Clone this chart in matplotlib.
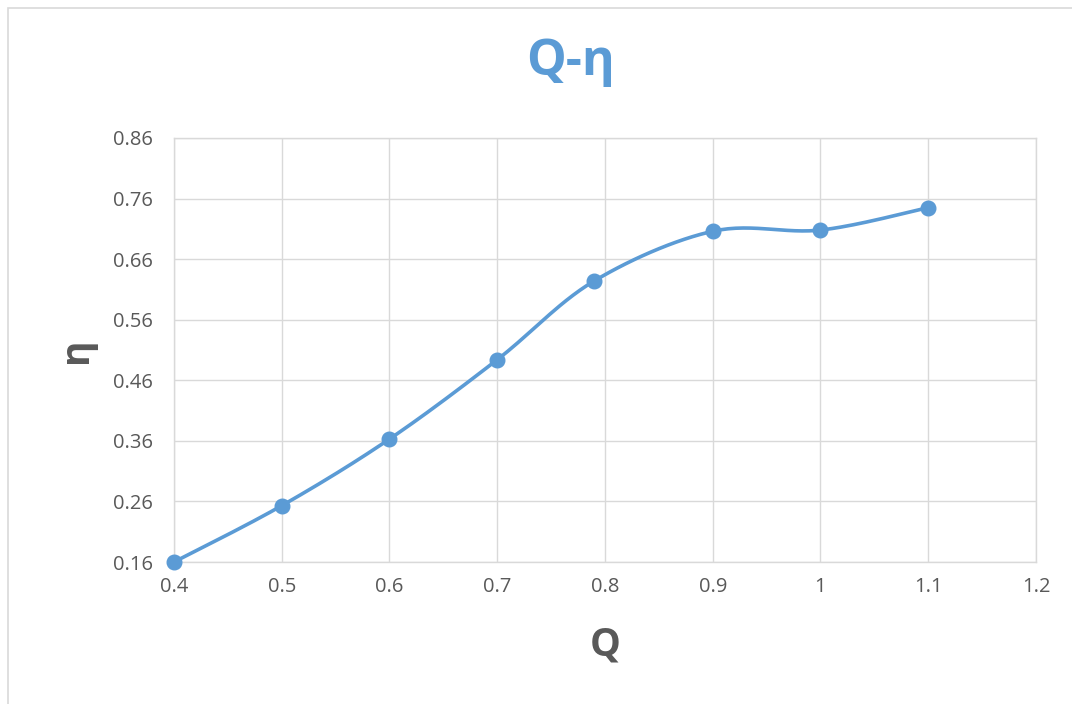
import numpy as np
import matplotlib.pyplot as plt
from matplotlib.patches import Rectangle

# datos
Q = [0.4, 0.5, 0.6, 0.7, 0.79, 0.9, 1.0, 1.1]
eta = [0.16, 0.253, 0.363, 0.494, 0.624, 0.706, 0.708, 0.745]
xticks = [0.4, 0.5, 0.6, 0.7, 0.8, 0.9, 1.0, 1.1, 1.2]
xticklabels = ["0.4", "0.5", "0.6", "0.7", "0.8", "0.9", "1", "1.1", "1.2"]
yticks = [0.16, 0.26, 0.36, 0.46, 0.56, 0.66, 0.76, 0.86]

azul = "#5B9BD5"
gris = "#595959"
rejilla = "#D9D9D9"

plt.rcParams["font.family"] = ["Open Sans", "DejaVu Sans"]


# linea suavizada tipo Excel (Catmull-Rom)
def suavizar(x, y, n=30):
    p = np.column_stack([x, y])
    p = np.vstack([p[0], p, p[-1]])
    out = []
    t = np.linspace(0, 1, n)[:, None]
    for i in range(1, len(p) - 2):
        p0, p1, p2, p3 = p[i - 1], p[i], p[i + 1], p[i + 2]
        c1 = p1 + (p2 - p0) / 6
        c2 = p2 - (p3 - p1) / 6
        seg = ((1 - t) ** 3) * p1 + 3 * ((1 - t) ** 2) * t * c1 + 3 * (1 - t) * t ** 2 * c2 + t ** 3 * p2
        out.append(seg)
    out = np.vstack(out)
    return out[:, 0], out[:, 1]


fig = plt.figure(figsize=(10.72, 7.04), dpi=100)
ax = fig.add_axes([0.1623, 0.2017, 0.8041, 0.6023])

xs, ys = suavizar(Q, eta)
ax.plot(xs, ys, color=azul, lw=2.6, solid_capstyle="round", zorder=3)
ax.plot(Q, eta, "o", color=azul, ms=10.5, zorder=4, clip_on=False)

ax.set_xlim(0.4, 1.2)
ax.set_ylim(0.16, 0.86)
ax.set_xticks(xticks)
ax.set_xticklabels(xticklabels)
ax.set_yticks(yticks)
ax.set_yticklabels([f"{v:.2f}" for v in yticks])
ax.tick_params(length=0, labelsize=14.5, labelcolor=gris)
ax.tick_params(axis="y", pad=15)
ax.tick_params(axis="x", pad=11)
ax.grid(True, color=rejilla, lw=1)
ax.set_axisbelow(True)
for s in ax.spines.values():
    s.set_color(rejilla)
    s.set_linewidth(1)

ax.set_xlabel("Q", fontsize=28, fontweight="bold", color=gris, labelpad=20)
ax.set_ylabel("η", fontsize=28, fontweight="bold", color=gris, labelpad=12)
fig.text(0.532, 0.912, "Q-η", fontsize=36, fontweight="bold", color=azul,
         ha="center", va="center")

# borde del area del grafico
fig.patches.append(Rectangle((8 / 1072, -0.1), 1.2, 1.1 - 8 / 704, transform=fig.transFigure,
                             fill=False, edgecolor=rejilla, lw=1.2))

fig.savefig("out.png", dpi=100, facecolor="white")
